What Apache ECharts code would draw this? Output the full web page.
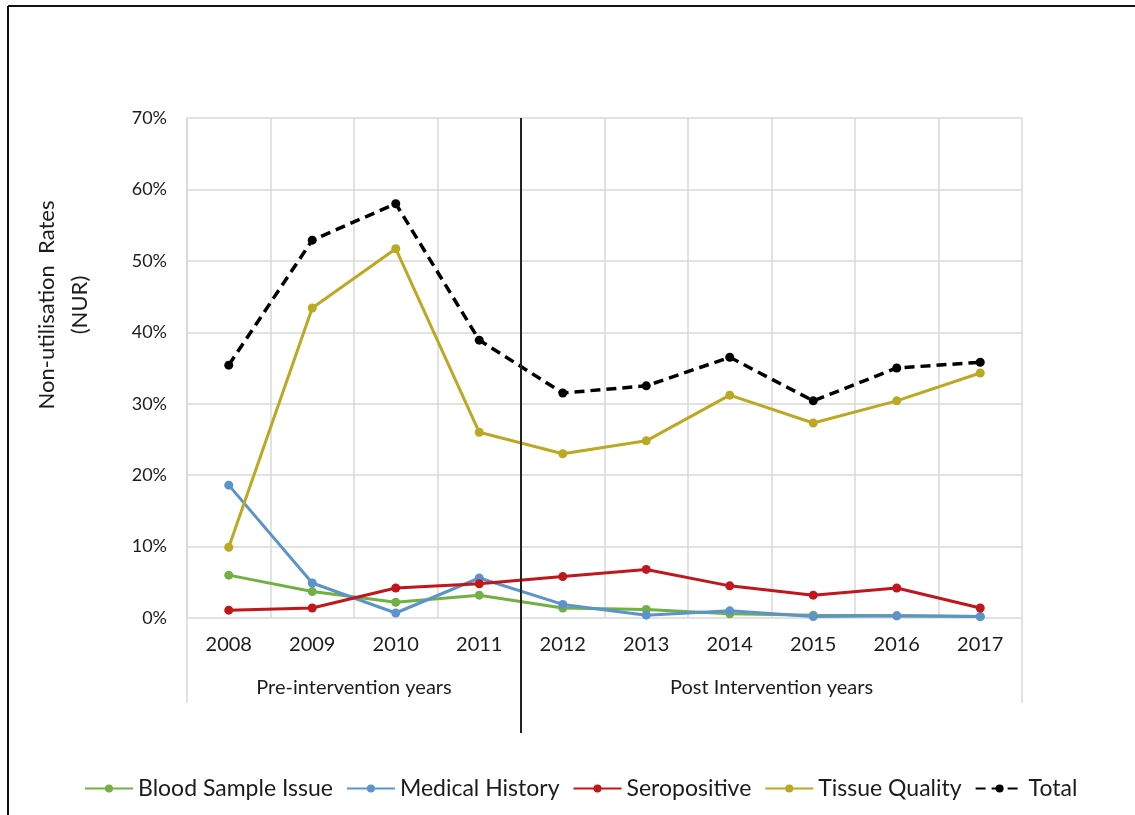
<!DOCTYPE html>
<html>
<head>
<meta charset="utf-8">
<script src="https://cdn.jsdelivr.net/npm/echarts@6/dist/echarts.min.js"></script>
<style>
  html, body { margin: 0; padding: 0; background: #fff; }
  #chart { width: 1135px; height: 815px; }
</style>
</head>
<body>
<div id="chart"></div>
<script>
const years = ["2008", "2009", "2010", "2011", "2012", "2013", "2014", "2015", "2016", "2017"];
const bloodSample = [6.0, 3.7, 2.2, 3.2, 1.4, 1.2, 0.6, 0.4, 0.3, 0.2];
const medicalHistory = [18.6, 4.9, 0.7, 5.6, 1.9, 0.4, 1.0, 0.2, 0.3, 0.2];
const seropositive = [1.1, 1.4, 4.2, 4.8, 5.8, 6.8, 4.5, 3.2, 4.2, 1.4];
const tissueQuality = [9.9, 43.4, 51.7, 26.0, 23.0, 24.8, 31.2, 27.3, 30.4, 34.3];
const total = [35.4, 52.9, 58.0, 38.9, 31.5, 32.5, 36.5, 30.4, 35.0, 35.8];
const periodLabels = ["Pre-intervention years", "Post Intervention years"];
const splitAfter = "2011"; // last pre-intervention year

const font = "Lato, 'Liberation Sans', sans-serif";
const textColor = "#1c1c1c";

let chart = echarts.init(document.getElementById("chart"));

function line(name, data, color, dashed) {
  return {
    name: name,
    type: "line",
    data: data,
    symbol: "circle",
    symbolSize: 9,
    color: color,
    lineStyle: { width: dashed ? 3.5 : 3, color: color, type: dashed ? [10, 6] : "solid" },
    itemStyle: { color: color },
    z: dashed ? 5 : 3,
  };
}

let option = {
  animation: false,
  textStyle: { fontFamily: font },
  grid: { left: 187, right: 113, top: 118, bottom: 197 },
  legend: {
    bottom: 10,
    left: 79,
    itemWidth: 48,
    itemHeight: 10,
    itemGap: 13,
    textStyle: { fontSize: 23, color: textColor, fontFamily: font },
  },
  xAxis: {
    type: "category",
    data: years,
    boundaryGap: true,
    axisTick: { show: false },
    axisLine: { show: false },
    axisLabel: { fontSize: 20, color: textColor, margin: 17 },
    splitLine: { show: true, lineStyle: { color: "#d9d9d9", width: 1.5 } },
  },
  yAxis: {
    type: "value",
    min: 0,
    max: 70,
    interval: 10,
    axisLine: { show: true, lineStyle: { color: "#d9d9d9", width: 1.5 } },
    axisTick: { show: false },
    axisLabel: { formatter: "{value}%", fontSize: 18, color: textColor, margin: 20 },
    splitLine: { lineStyle: { color: "#d9d9d9", width: 1.5 } },
  },
  series: [
    line("Blood Sample Issue", bloodSample, "#72b043"),
    line("Medical History", medicalHistory, "#5b93cc"),
    line("Seropositive", seropositive, "#c0161c"),
    line("Tissue Quality", tissueQuality, "#bba823"),
    line("Total", total, "#000000", true),
  ],
};
chart.setOption(option);

// decorations from the axis scale: period divider, bottom brackets, period labels
const px0 = chart.convertToPixel({ xAxisIndex: 0 }, years[0]);
const px1 = chart.convertToPixel({ xAxisIndex: 0 }, years[1]);
const step = px1 - px0;
const plotLeft = px0 - step / 2;
const plotRight = chart.convertToPixel({ xAxisIndex: 0 }, years[years.length - 1]) + step / 2;
const divX = chart.convertToPixel({ xAxisIndex: 0 }, splitAfter) + step / 2;
const plotTop = chart.convertToPixel({ yAxisIndex: 0 }, 70);
const plotBase = chart.convertToPixel({ yAxisIndex: 0 }, 0);

chart.setOption({
  graphic: [
    // outer frame (top and left)
    { type: "line", shape: { x1: 8, y1: 6, x2: 1135, y2: 6 }, style: { stroke: "#111", lineWidth: 2 } },
    { type: "line", shape: { x1: 8, y1: 6, x2: 8, y2: 815 }, style: { stroke: "#111", lineWidth: 2 } },
    { type: "line", shape: { x1: plotLeft, y1: plotBase, x2: plotLeft, y2: plotBase + 85 }, style: { stroke: "#d9d9d9", lineWidth: 1.5 } },
    { type: "line", shape: { x1: plotRight, y1: plotBase, x2: plotRight, y2: plotBase + 85 }, style: { stroke: "#d9d9d9", lineWidth: 1.5 } },
    { type: "line", z: 10, shape: { x1: divX, y1: plotTop, x2: divX, y2: plotBase + 115 }, style: { stroke: "#222", lineWidth: 2 } },
    {
      type: "text", x: (plotLeft + divX) / 2, y: plotBase + 70,
      style: { text: periodLabels[0], fill: textColor, font: "20px " + font, textAlign: "center", textVerticalAlign: "middle" },
    },
    {
      type: "text", x: (divX + plotRight) / 2, y: plotBase + 70,
      style: { text: periodLabels[1], fill: textColor, font: "20px " + font, textAlign: "center", textVerticalAlign: "middle" },
    },
    {
      type: "text", x: 63, y: 305, rotation: Math.PI / 2,
      style: { text: "Non-utilisation  Rates\n(NUR)", fill: textColor, font: "22px " + font, textAlign: "center", textVerticalAlign: "middle", lineHeight: 33 },
    },
  ],
});
</script>
</body>
</html>
